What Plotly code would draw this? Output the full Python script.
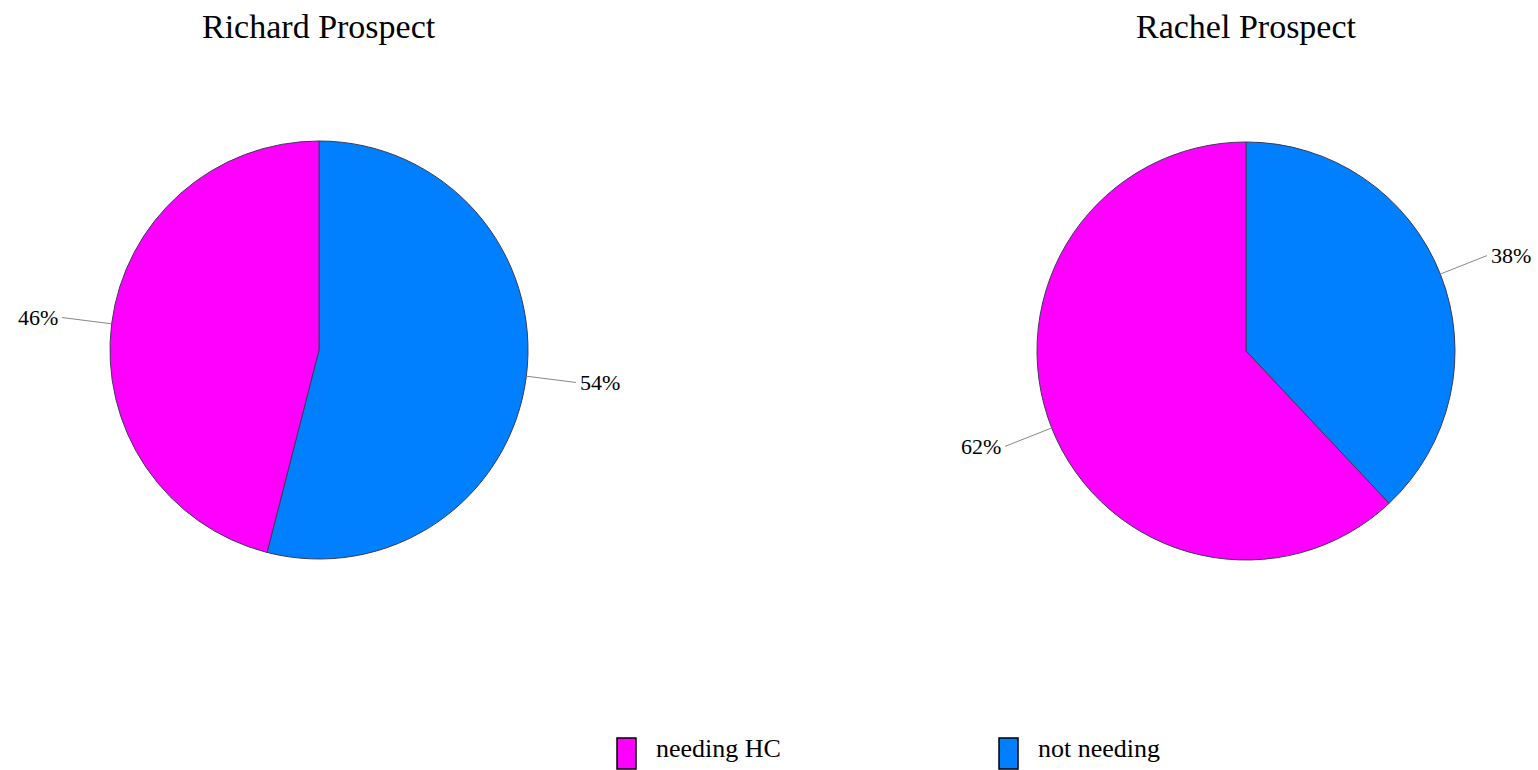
import math
import plotly.graph_objects as go

# ---- data ----
categories = ["needing HC", "not needing"]
prospects = ["Richard Prospect", "Rachel Prospect"]
richard_values = [46, 54]
rachel_values = [62, 38]
colors = ["#FF00FF", "#0080FF"]

# ---- layout constants (pixels) ----
W, H = 1538, 770
R = 209
centers = [(319, 350), (1246, 351)]
LEAD = 50
FONT = "Liberation Serif, Times New Roman, serif"

def px(x):
    return x / W

def py(y):
    return 1 - y / H

fig = go.Figure()
shapes = []
annotations = []

for name, vals, (cx, cy) in zip(prospects, [richard_values, rachel_values], centers):
    # slices drawn clockwise from 12 o'clock, "not needing" first
    fig.add_trace(go.Pie(
        labels=categories[::-1],
        values=vals[::-1],
        sort=False,
        direction="clockwise",
        rotation=0,
        textinfo="none",
        hoverinfo="label+percent",
        marker=dict(colors=colors[::-1], line=dict(color="#3a3a5a", width=1)),
        domain=dict(x=[px(cx - R), px(cx + R)], y=[py(cy + R), py(cy - R)]),
        showlegend=False,
        name=name,
    ))
    # title
    annotations.append(dict(
        text=name, x=px(cx), y=py(26), xref="paper", yref="paper",
        showarrow=False, xanchor="center", yanchor="middle",
        font=dict(family=FONT, size=34, color="black"),
    ))
    # leader lines + percent labels, computed from data
    total = sum(vals)
    start = 0.0  # degrees, measured counterclockwise from 12 o'clock
    for v in vals:
        frac = v / total
        mid_ccw = start + frac * 180.0
        start += frac * 360.0
        theta = math.radians(-mid_ccw)  # clockwise angle from top
        dx, dy = math.sin(theta), -math.cos(theta)
        x0, y0 = cx + R * dx, cy + R * dy
        x1, y1 = cx + (R + LEAD) * dx, cy + (R + LEAD) * dy
        shapes.append(dict(
            type="line", xref="paper", yref="paper",
            x0=px(x0), y0=py(y0), x1=px(x1), y1=py(y1),
            line=dict(color="#888888", width=1),
        ))
        right = dx >= 0
        annotations.append(dict(
            text=f"{round(frac * 100)}%",
            x=px(x1 + (2 if right else -2)), y=py(y1),
            xref="paper", yref="paper", showarrow=False,
            xanchor="left" if right else "right", yanchor="middle",
            font=dict(family=FONT, size=22, color="black"),
        ))

# custom legend
legend_x = [617, 999]
for cat, col, lx in zip(categories, colors, legend_x):
    shapes.append(dict(
        type="rect", xref="paper", yref="paper",
        x0=px(lx), x1=px(lx + 19), y0=py(769), y1=py(738),
        fillcolor=col, line=dict(color="black", width=1.5),
    ))
    annotations.append(dict(
        text=cat, x=px(lx + 37), y=py(748), xref="paper", yref="paper",
        showarrow=False, xanchor="left", yanchor="middle",
        font=dict(family=FONT, size=26, color="black"),
    ))

fig.update_layout(
    width=W, height=H,
    margin=dict(l=0, r=0, t=0, b=0),
    paper_bgcolor="white", plot_bgcolor="white",
    shapes=shapes, annotations=annotations,
    showlegend=False,
)

fig.write_html("out.html")
